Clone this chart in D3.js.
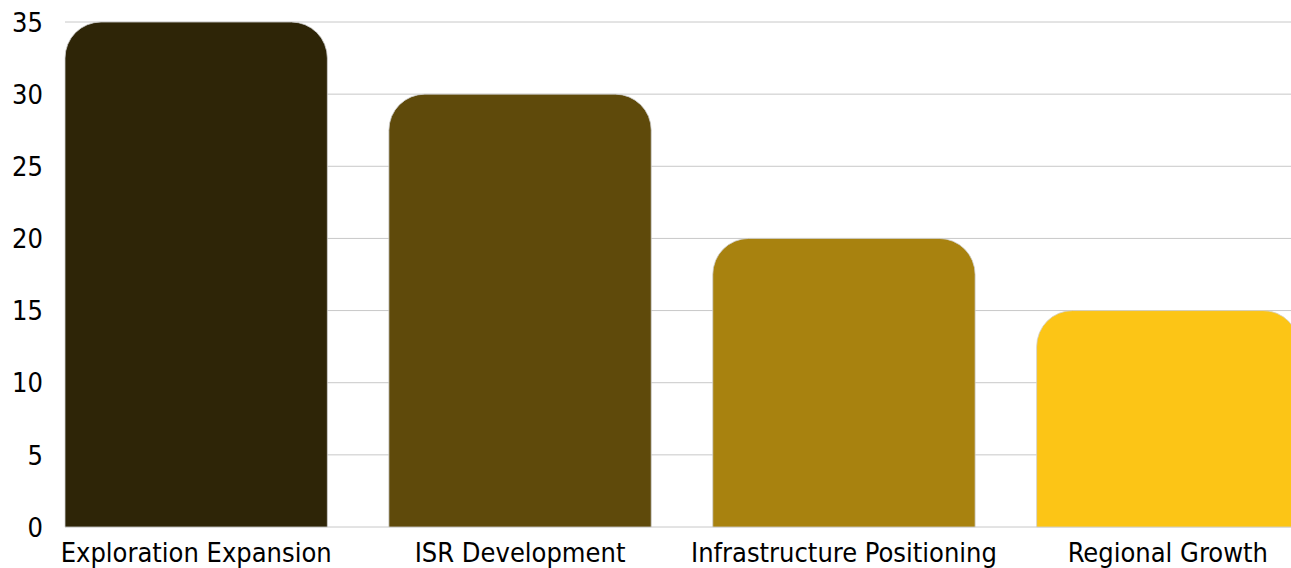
<!DOCTYPE html>
<html><head><meta charset="utf-8">
<script src="https://cdn.jsdelivr.net/npm/d3@7"></script>
<style>body{margin:0;background:#fff;overflow:hidden}</style>
</head><body>
<svg id="c" width="1291" height="568"></svg>
<script>
const categories = ["Exploration Expansion","ISR Development","Infrastructure Positioning","Regional Growth"];
const values = [35,30,20,15];
const colors = ["#2e2507","#5f4a0b","#a8820f","#fcc516"];
const yTicks = [0,5,10,15,20,25,30,35];

(function(){
const svg = d3.select("#c");
const mLeft = 65, mRight = 1291, mTop = 22, mBottom = 527;
const x = d3.scaleBand().domain(categories).range([mLeft, 1299]).paddingInner(0.19).paddingOuter(0);
const y = d3.scaleLinear().domain([0,35]).range([mBottom, mTop]);
const font = "'DejaVu Sans Condensed','DejaVu Sans',sans-serif";

svg.append("g").selectAll("line").data(yTicks).join("line")
  .attr("x1", mLeft).attr("x2", mRight)
  .attr("y1", d=>y(d)).attr("y2", d=>y(d))
  .attr("stroke","#c8c8c8").attr("stroke-width",1);

svg.append("g").selectAll("text").data(yTicks).join("text")
  .attr("x", 43).attr("y", d=>y(d)).attr("dy","0.36em")
  .attr("text-anchor","end").attr("font-family",font).attr("font-size",27).attr("fill","#000")
  .text(d=>d);

function barPath(x0, w, yTop, yBot, r){
  r = Math.min(r, w/2, yBot-yTop);
  return `M${x0},${yBot}V${yTop+r}A${r},${r} 0 0 1 ${x0+r},${yTop}H${x0+w-r}A${r},${r} 0 0 1 ${x0+w},${yTop+r}V${yBot}Z`;
}
svg.append("g").selectAll("path").data(categories).join("path")
  .attr("d",(d,i)=>barPath(x(d), x.bandwidth(), y(values[i]), y(0), 36))
  .attr("fill",(d,i)=>colors[i]).attr("stroke","#d0d0d0").attr("stroke-width",0.8);

svg.append("g").selectAll("text").data(categories).join("text")
  .attr("x", d=>x(d)+x.bandwidth()/2).attr("y", 562)
  .attr("text-anchor","middle").attr("font-family",font).attr("font-size",27).attr("fill","#000")
  .text(d=>d);
})();
</script>
</body></html>
